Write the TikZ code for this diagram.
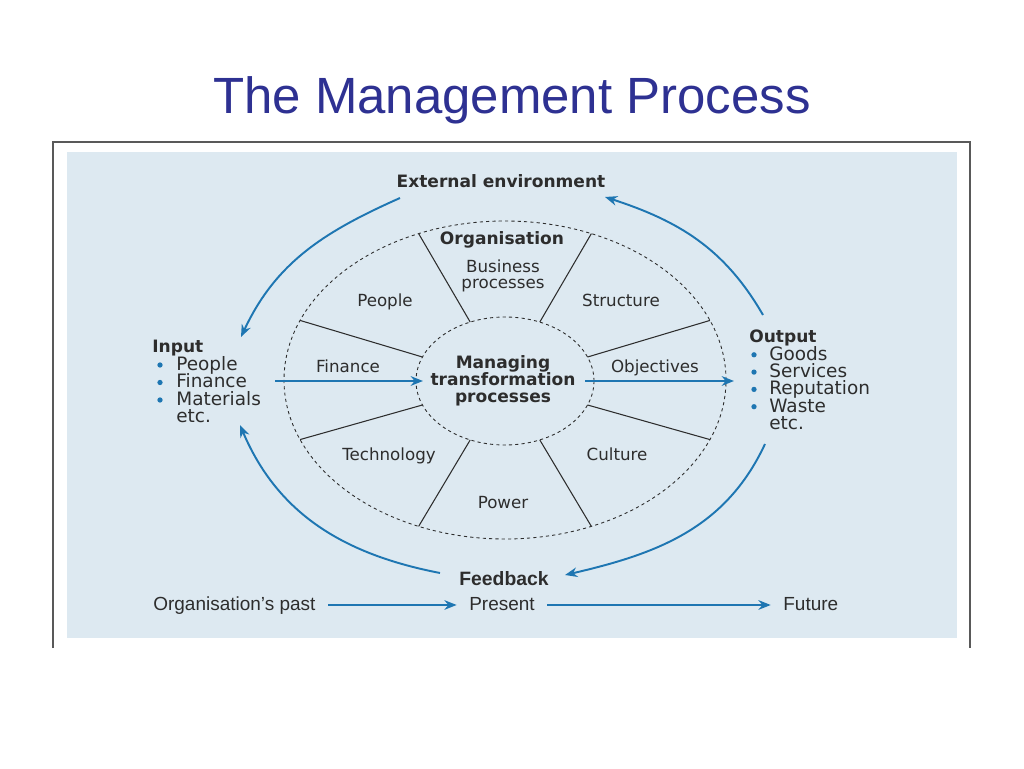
\documentclass[tikz,border=0pt]{standalone}
\usepackage{fontspec}
\setmainfont{DejaVu Sans}
\newfontfamily\titlefont{Liberation Sans}
\usetikzlibrary{arrows.meta}

\definecolor{panelblue}{RGB}{221,233,241}
\definecolor{flowblue}{RGB}{30,118,178}
\definecolor{titleblue}{RGB}{46,49,146}
\definecolor{inkgray}{RGB}{45,45,45}

\begin{document}
\begin{tikzpicture}[x=0.02cm, y=0.02cm,
  label/.style={text=inkgray, font=\fontsize{9.5}{9.1}\selectfont, inner sep=0pt, align=center},
  head/.style={text=inkgray, font=\fontsize{9.7}{9.6}\selectfont\bfseries, inner sep=0pt, align=center},
  item/.style={text=inkgray, font=\fontsize{10.5}{10.5}\selectfont, inner sep=0pt, anchor=base west},
  time/.style={text=inkgray, font=\titlefont\fontsize{10.8}{10.8}\selectfont, inner sep=0pt, text height=8pt, text depth=2.3pt},
  flow/.style={draw=flowblue, line width=1.1pt, -{Stealth[length=7pt,width=5.5pt]}},
  dot/.style={circle, fill=flowblue, inner sep=0pt, minimum size=3pt},
  spoke/.style={draw=inkgray, line width=0.6pt},
  rim/.style={draw=inkgray, line width=0.5pt, dash pattern=on 1.8pt off 1.8pt}]

\useasboundingbox (0,0) rectangle (1024,768);
\fill[white] (0,0) rectangle (1024,768);
\node[anchor=base, text=titleblue, font=\titlefont\fontsize{29}{29}\selectfont] (title) at (512,654) {The Management Process};
\draw[gray!70!black, line width=1pt] (53,120) -- (53,626) -- (970,626) -- (970,120);
\fill[panelblue] (67,130) rectangle (957,616);

\draw[rim] (505,388) ellipse [x radius=221, y radius=159];
\draw[rim] (505,387) ellipse [x radius=89, y radius=64];
\foreach \a in {22,67,113,158,202,247,293,338}
  \draw[spoke] ({505+89*cos(\a)},{387+64*sin(\a)}) -- ({505+221*cos(\a)},{388+159*sin(\a)});

\node[head, anchor=base] (ext) at (501,580) {External environment};
\node[head, anchor=base] (org) at (502,523) {Organisation};
\node[label] (bus) at (503,492) {Business\\processes};
\node[label, anchor=base] (people) at (385,461) {People};
\node[label, anchor=base] (structure) at (621,461) {Structure};
\node[label, anchor=base] (finance) at (348,395) {Finance};
\node[label, anchor=base] (objectives) at (655,395) {Objectives};
\node[head] (core) at (503,387) {Managing\\transformation\\processes};
\node[label, anchor=base] (technology) at (389,308) {Technology};
\node[label, anchor=base] (culture) at (617,308) {Culture};
\node[label, anchor=base] (power) at (503,260) {Power};

\node[head, anchor=base west] (input) at (152,415) {Input};
\foreach \t [count=\i] in {People,Finance,Materials}
  \node[dot] (inb\i) at (160,{415-17.5*\i+5.5}) {};
\foreach \t [count=\i] in {People,Finance,Materials,etc.}
  \node[item] (ini\i) at (176,{415-17.5*\i}) {\t};

\node[head, anchor=base west] (output) at (749,425) {Output};
\foreach \t [count=\i] in {Goods,Services,Reputation,Waste}
  \node[dot] (outb\i) at (754,{425-17.3*\i+5.5}) {};
\foreach \t [count=\i] in {Goods,Services,Reputation,Waste,etc.}
  \node[item] (outi\i) at (769,{425-17.3*\i}) {\t};

\node[text=inkgray, font=\titlefont\fontsize{11}{11}\selectfont\bfseries, inner sep=0pt, anchor=base] (feedback) at (504,183) {Feedback};
\node[time, anchor=base west] (past) at (153,158) {Organisation’s past};
\node[time, anchor=base] (present) at (502,158) {Present};
\node[time, anchor=base west] (future) at (783,158) {Future};

\coordinate (envL) at (400,570);
\coordinate (inTop) at (241,431);
\coordinate (outTop) at (763,453);
\coordinate (envR) at (605,571);
\coordinate (outBot) at (765,324);
\coordinate (fbR) at (565,193);
\coordinate (fbL) at (440,195);
\coordinate (inBot) at (240,343);
\coordinate (inL) at (275,387);
\coordinate (rimW) at (423,387);
\coordinate (rimE) at (585,387);
\coordinate (outR) at (734,387);

\draw[flow] (envL) to[out=204, in=65] (inTop);
\draw[flow] (outTop) to[out=120, in=-18] (envR);
\draw[flow] (outBot) to[out=245, in=13] (fbR);
\draw[flow] (fbL) to[out=169, in=-67] (inBot);
\draw[flow] (inL) -- (rimW);
\draw[flow] (rimE) -- (outR);
\draw[flow, shorten <=7pt, shorten >=7pt] (past.east) -- (present.west);
\draw[flow, shorten <=7pt, shorten >=7pt] (present.east) -- (future.west);

\end{tikzpicture}
\end{document}
